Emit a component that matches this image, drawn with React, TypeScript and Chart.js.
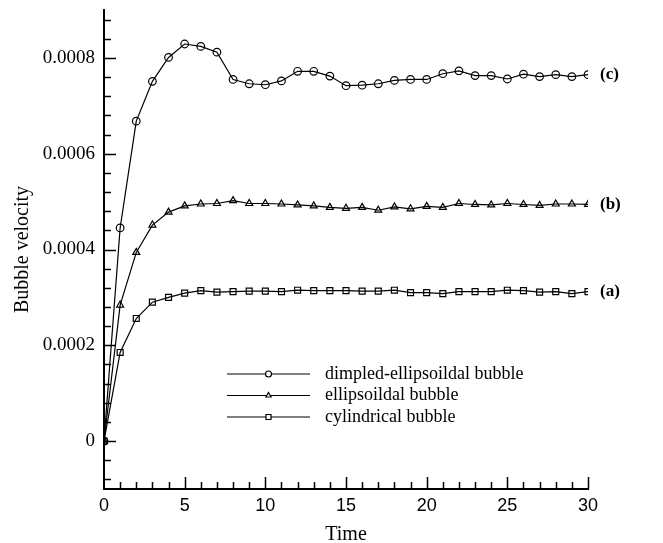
import React, { useEffect, useRef } from "react";
import { Chart, registerables } from "chart.js";

Chart.register(...registerables);

const times = [0, 1, 2, 3, 4, 5, 6, 7, 8, 9, 10, 11, 12, 13, 14, 15, 16, 17, 18, 19, 20, 21, 22, 23, 24, 25, 26, 27, 28, 29, 30];

const dimpledEllipsoidal = [
  0, 0.000445, 0.000668, 0.000751, 0.000801, 0.000829, 0.000824, 0.000812, 0.000755, 0.000746,
  0.000744, 0.000752, 0.000772, 0.000772, 0.000762, 0.000742, 0.000743, 0.000746, 0.000753, 0.000755,
  0.000755, 0.000767, 0.000773, 0.000763, 0.000763, 0.000756, 0.000766, 0.000761, 0.000765, 0.000761,
  0.000765,
];

const ellipsoidal = [
  0, 0.000284, 0.000394, 0.000451, 0.000478, 0.000491, 0.000495, 0.000496, 0.000502, 0.000496,
  0.000496, 0.000495, 0.000493, 0.000491, 0.000488, 0.000486, 0.000488, 0.000482, 0.000489, 0.000485,
  0.00049, 0.000488, 0.000496, 0.000494, 0.000493, 0.000496, 0.000494, 0.000492, 0.000495, 0.000495,
  0.000494,
];

const cylindrical = [
  0, 0.000185, 0.000256, 0.00029, 0.0003, 0.000309, 0.000314, 0.000311, 0.000312, 0.000313,
  0.000313, 0.000312, 0.000315, 0.000314, 0.000314, 0.000314, 0.000313, 0.000313, 0.000315, 0.00031,
  0.00031, 0.000308, 0.000312, 0.000312, 0.000312, 0.000315, 0.000314, 0.000311, 0.000312, 0.000308,
  0.000312,
];

const seriesNames = ["dimpled-ellipsoildal bubble", "ellipsoildal bubble", "cylindrical bubble"];
const seriesTags = ["(c)", "(b)", "(a)"];
const seriesMarkers = ["circle", "triangle", "rect"];

const xTickValues = [0, 5, 10, 15, 20, 25, 30];
const xTickLabels = ["0", "5", "10", "15", "20", "25", "30"];
const yTickValues = [0, 0.0002, 0.0004, 0.0006, 0.0008];
const yTickLabels = ["0", "0.0002", "0.0004", "0.0006", "0.0008"];

const xTitle = "Time";
const yTitle = "Bubble velocity";

const SERIF = "'Liberation Serif', 'Times New Roman', serif";
const SANS = "'Liberation Sans', Arial, sans-serif";

function drawMarker(ctx: CanvasRenderingContext2D, style: string, cx: number, cy: number, r: number) {
  ctx.beginPath();
  if (style === "circle") {
    ctx.arc(cx, cy, r, 0, Math.PI * 2);
  } else if (style === "triangle") {
    ctx.moveTo(cx, cy - r);
    ctx.lineTo(cx + r * 0.866, cy + r * 0.5);
    ctx.lineTo(cx - r * 0.866, cy + r * 0.5);
    ctx.closePath();
  } else {
    ctx.rect(cx - r, cy - r, 2 * r, 2 * r);
  }
  ctx.fillStyle = "#fff";
  ctx.fill();
  ctx.stroke();
}

const decorPlugin = {
  id: "decor",
  afterDraw(chart: any) {
    const { ctx, chartArea } = chart;
    const xs = chart.scales.x;
    const ys = chart.scales.y;
    ctx.save();
    ctx.strokeStyle = "#000";
    ctx.lineWidth = 1.5;

    // y ticks (inward)
    ctx.beginPath();
    for (let i = -2; i <= 22; i++) {
      const v = i * 0.00004;
      if (v > 0.00089) continue;
      const major = i % 5 === 0;
      const py = Math.round(ys.getPixelForValue(v)) + 0.5;
      ctx.moveTo(chartArea.left, py);
      ctx.lineTo(chartArea.left + (major ? 12 : 7), py);
    }
    // x ticks (inward)
    for (let i = 1; i <= 30; i++) {
      const major = i % 5 === 0;
      const px = Math.round(xs.getPixelForValue(i)) + 0.5;
      ctx.moveTo(px, chartArea.bottom);
      ctx.lineTo(px, chartArea.bottom - (major ? 12 : 7));
    }
    ctx.stroke();

    // titles
    ctx.fillStyle = "#000";
    ctx.font = `20px ${SERIF}`;
    ctx.textAlign = "center";
    ctx.textBaseline = "alphabetic";
    ctx.fillText(xTitle, (chartArea.left + chartArea.right) / 2, 540);
    ctx.save();
    ctx.translate(23, (chartArea.top + chartArea.bottom) / 2);
    ctx.rotate(-Math.PI / 2);
    ctx.textBaseline = "middle";
    ctx.fillText(yTitle, 0, 0);
    ctx.restore();

    // curve tags
    ctx.font = `bold 17px ${SERIF}`;
    ctx.textAlign = "left";
    ctx.textBaseline = "middle";
    chart.data.datasets.forEach((ds: any, i: number) => {
      const last = ds.data[ds.data.length - 1];
      ctx.fillText(seriesTags[i], xs.getPixelForValue(last.x) + 12, ys.getPixelForValue(last.y));
    });

    // legend
    const rows = [374, 395.5, 417];
    ctx.lineWidth = 1.2;
    ctx.font = `18px ${SERIF}`;
    seriesNames.forEach((name, i) => {
      const ry = rows[i];
      ctx.beginPath();
      ctx.moveTo(227, ry);
      ctx.lineTo(310, ry);
      ctx.stroke();
      drawMarker(ctx, seriesMarkers[i], 268.5, ry, i === 2 ? 2.5 : 3);
      ctx.fillStyle = "#000";
      ctx.fillText(name, 325, ry);
    });
    ctx.restore();
  },
};

export default function App() {
  const canvasRef = useRef<HTMLCanvasElement | null>(null);

  useEffect(() => {
    if (!canvasRef.current) return;
    const series = [dimpledEllipsoidal, ellipsoidal, cylindrical];
    const radii = [3.8, 4, 4.2];
    const chart = new Chart(canvasRef.current, {
      type: "line",
      data: {
        datasets: series.map((vals, i) => ({
          label: seriesNames[i],
          data: times.map((t, k) => ({ x: t, y: vals[k] })),
          borderColor: "#000",
          borderWidth: 1.2,
          pointStyle: seriesMarkers[i] as any,
          pointRadius: radii[i],
          pointBorderWidth: 1.2,
          pointBorderColor: "#000",
          pointBackgroundColor: "rgba(255,255,255,0)",
          tension: 0,
          fill: false,
        })),
      },
      options: {
        animation: false,
        responsive: false,
        devicePixelRatio: 1,
        layout: { padding: { left: 0, right: 75, top: 10, bottom: 0 } },
        plugins: { legend: { display: false }, tooltip: { enabled: false } },
        scales: {
          x: {
            type: "linear",
            min: 0,
            max: 30,
            afterBuildTicks: (s: any) => {
              s.ticks = xTickValues.map((v) => ({ value: v }));
            },
            afterFit: (s: any) => {
              s.height = 54;
              s.paddingLeft = 0;
              s.paddingRight = 0;
              s.paddingTop = 0;
              s.paddingBottom = 0;
            },
            ticks: {
              callback: (v: any) => xTickLabels[xTickValues.indexOf(Number(v))],
              font: { family: SANS, size: 18 },
              color: "#000",
              padding: 6,
              maxRotation: 0,
              autoSkip: false,
            },
            grid: { display: false, drawTicks: false },
            border: { display: true, color: "#000", width: 2 },
          },
          y: {
            type: "linear",
            min: -0.0001,
            max: 0.0009,
            afterBuildTicks: (s: any) => {
              s.ticks = yTickValues.map((v) => ({ value: v }));
            },
            afterFit: (s: any) => {
              s.width = 104;
              s.paddingLeft = 0;
              s.paddingRight = 0;
              s.paddingTop = 0;
              s.paddingBottom = 0;
            },
            ticks: {
              callback: (v: any) => {
                const idx = yTickValues.findIndex((t) => Math.abs(t - Number(v)) < 1e-9);
                return idx >= 0 ? yTickLabels[idx] : "";
              },
              font: { family: SERIF, size: 19 },
              color: "#000",
              padding: 9,
              autoSkip: false,
            },
            grid: { display: false, drawTicks: false },
            border: { display: true, color: "#000", width: 2 },
          },
        },
      },
      plugins: [decorPlugin],
    });
    return () => chart.destroy();
  }, []);

  return (
    <div style={{ position: "fixed", left: 0, top: 0, width: 663, height: 543, background: "#fff" }}>
      <canvas ref={canvasRef} width={663} height={543} style={{ display: "block" }} />
    </div>
  );
}
